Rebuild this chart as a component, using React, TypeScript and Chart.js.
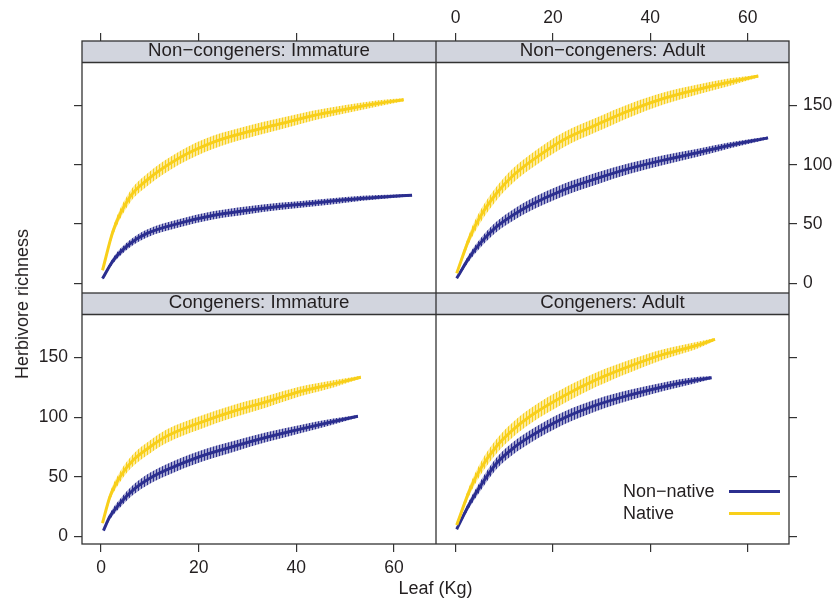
import React, { useEffect, useRef } from "react";
import { Chart, registerables } from "chart.js";

Chart.register(...registerables);

// ---------- data ----------
const X_TICKS = [0, 20, 40, 60];
const Y_TICKS = [0, 50, 100, 150];
const SERIES_NAMES = ["Non\u2212native", "Native"];
const PANEL_TITLES = [
  "Non\u2212congeners: Immature",
  "Non\u2212congeners: Adult",
  "Congeners: Immature",
  "Congeners: Adult",
];
const X_TITLE = "Leaf (Kg)";
const Y_TITLE = "Herbivore richness";

// Non-congeners: Immature
const nciNativeX = [0.3, 2.5, 5.9, 9.3, 16.1, 22.9, 29.7, 36.5, 43.3, 50.1, 56.9, 62.0];
const nciNativeY = [11, 44.6, 72.7, 86.8, 106, 119, 127.5, 134.5, 141.5, 147, 152, 155];
const nciNativeErr = [1.2, 3.6, 4.8, 5.3, 5.5, 5.5, 5.2, 4.8, 4.2, 3.5, 2.6, 1.2];
const nciNonNativeX = [0.3, 2.5, 5.9, 9.3, 16.1, 22.9, 29.7, 36.5, 43.3, 50.1, 56.9, 63.7];
const nciNonNativeY = [4, 19.4, 33.4, 41.9, 50.8, 57.3, 61.5, 64.9, 67.6, 70.5, 72.7, 74.4];
const nciNonNativeErr = [1, 2.5, 3.1, 3.4, 3.5, 3.5, 3.4, 3.1, 2.8, 2.4, 1.8, 1];

// Non-congeners: Adult
const ncaNativeX = [0.2, 2.9, 5, 8.4, 11.8, 15.3, 22.1, 29, 35.8, 42.7, 49.5, 56.4, 62.2];
const ncaNativeY = [8.4, 39, 56, 76, 91, 102.5, 121, 134, 146, 156, 163.5, 170, 175];
const ncaNativeErr = [1.2, 4, 5.2, 5.8, 6.2, 6.3, 6.3, 6.1, 5.7, 5.1, 4.2, 3.1, 1.2];
const ncaNonNativeX = [0.2, 2.9, 5, 8.4, 11.8, 15.3, 22.1, 29, 35.8, 42.7, 49.5, 56.4, 64.2];
const ncaNonNativeY = [4.2, 22.5, 33.7, 47.8, 57.6, 66, 78.7, 88.5, 97, 104, 110, 116.6, 122.8];
const ncaNonNativeErr = [1, 3, 3.8, 4.4, 4.8, 5, 5.1, 5, 4.6, 4.1, 3.4, 2.5, 1.1];

// Congeners: Immature
const ciNativeX = [0.3, 1.8, 3.9, 6.6, 10, 13.4, 20.3, 27.1, 33.9, 40.8, 47.6, 53.2];
const ciNativeY = [11, 33, 50, 64, 75, 84, 95.5, 105, 113, 121.6, 128, 133.6];
const ciNativeErr = [1.2, 3.3, 4.4, 5, 5.4, 5.6, 5.6, 5.3, 4.8, 4.1, 3, 1.2];
const ciNonNativeX = [0.5, 1.8, 3.9, 6.6, 10, 13.4, 20.3, 27.1, 33.9, 40.8, 47.6, 52.6];
const ciNonNativeY = [4.8, 16.5, 27.7, 39, 48.7, 55.7, 67, 75.4, 83.2, 90, 96.4, 100.8];
const ciNonNativeErr = [1, 2.6, 3.5, 4.2, 4.6, 4.8, 4.8, 4.6, 4.1, 3.4, 2.5, 1];

// Congeners: Adult
const caNativeX = [0.2, 2.9, 5, 8.4, 11.8, 15.3, 22.1, 29, 35.8, 42.7, 49.5, 53.3];
const caNativeY = [9.5, 39, 56, 75.6, 89.6, 100.8, 117.6, 131.7, 142.9, 152.7, 160.2, 165.3];
const caNativeErr = [1.2, 4, 5.2, 6, 6.3, 6.4, 6.4, 6, 5.3, 4.3, 3, 1.2];
const caNonNativeX = [0.2, 2.9, 5, 8.4, 11.8, 15.3, 22.1, 29, 35.8, 42.7, 49.5, 52.6];
const caNonNativeY = [5.9, 27.7, 41.7, 61.3, 73.9, 83.7, 99, 110.3, 118.6, 125.6, 131.2, 133.2];
const caNonNativeErr = [1, 3.2, 4.1, 4.8, 5.2, 5.3, 5.3, 5, 4.4, 3.6, 2.5, 1.1];

// ---------- style ----------
const FONT = '"Liberation Sans", Arial, Helvetica, sans-serif';
const INK = "#231f20";
const FRAME = "#333333";
const STRIP_BG = "#d2d5de";
const BLUE = "#2b2e8f";
const YELLOW = "#f8cf1a";
const STRIP_H = 21.5;

type Series = { x: number[]; y: number[]; err: number[] };
type PanelDef = {
  title: string;
  nonNative: Series;
  native: Series;
  box: { left: number; top: number; w: number; h: number };
  xPos: "top" | "bottom";
  xSize: number;
  xLabels: boolean;
  yPos: "left" | "right";
  ySize: number;
  yLabels: boolean;
  xRange: [number, number];
  yRange: [number, number];
};

const PANELS: PanelDef[] = [
  {
    title: PANEL_TITLES[0],
    nonNative: { x: nciNonNativeX, y: nciNonNativeY, err: nciNonNativeErr },
    native: { x: nciNativeX, y: nciNativeY, err: nciNativeErr },
    box: { left: 0, top: 0, w: 436, h: 293 },
    xPos: "top", xSize: 41, xLabels: false,
    yPos: "left", ySize: 82, yLabels: false,
    xRange: [-3.9, 68.6], yRange: [-8.2, 204.6],
  },
  {
    title: PANEL_TITLES[1],
    nonNative: { x: ncaNonNativeX, y: ncaNonNativeY, err: ncaNonNativeErr },
    native: { x: ncaNativeX, y: ncaNativeY, err: ncaNativeErr },
    box: { left: 436, top: 0, w: 399, h: 293 },
    xPos: "top", xSize: 41, xLabels: true,
    yPos: "right", ySize: 46, yLabels: true,
    xRange: [-4.05, 68.5], yRange: [-8.2, 204.6],
  },
  {
    title: PANEL_TITLES[2],
    nonNative: { x: ciNonNativeX, y: ciNonNativeY, err: ciNonNativeErr },
    native: { x: ciNativeX, y: ciNativeY, err: ciNativeErr },
    box: { left: 0, top: 293, w: 436, h: 306 },
    xPos: "bottom", xSize: 55, xLabels: true,
    yPos: "left", ySize: 82, yLabels: true,
    xRange: [-3.9, 68.6], yRange: [-6.5, 204.3],
  },
  {
    title: PANEL_TITLES[3],
    nonNative: { x: caNonNativeX, y: caNonNativeY, err: caNonNativeErr },
    native: { x: caNativeX, y: caNativeY, err: caNativeErr },
    box: { left: 436, top: 293, w: 399, h: 306 },
    xPos: "bottom", xSize: 55, xLabels: false,
    yPos: "right", ySize: 46, yLabels: false,
    xRange: [-4.05, 68.5], yRange: [-6.5, 204.3],
  },
];

function hexToRgba(hex: string, a: number) {
  const n = parseInt(hex.slice(1), 16);
  return `rgba(${(n >> 16) & 255},${(n >> 8) & 255},${n & 255},${a})`;
}

function makePattern(color: string): CanvasPattern | string {
  const c = document.createElement("canvas");
  c.width = 3;
  c.height = 2;
  const ctx = c.getContext("2d");
  if (!ctx) return hexToRgba(color, 0.5);
  ctx.fillStyle = hexToRgba(color, 0.42);
  ctx.fillRect(0, 0, 3, 2);
  ctx.fillStyle = hexToRgba(color, 1);
  ctx.fillRect(0, 0, 1, 2);
  return ctx.createPattern(c, "repeat") || hexToRgba(color, 0.5);
}

function panelPlugin(label: string) {
  return {
    id: "panelFrame",
    afterDraw(chart: any) {
      const { ctx, chartArea: a } = chart;
      ctx.save();
      ctx.fillStyle = STRIP_BG;
      ctx.fillRect(a.left, a.top, a.right - a.left, STRIP_H);
      ctx.strokeStyle = FRAME;
      ctx.lineWidth = 1.3;
      ctx.strokeRect(a.left, a.top, a.right - a.left, a.bottom - a.top);
      ctx.beginPath();
      ctx.moveTo(a.left, a.top + STRIP_H);
      ctx.lineTo(a.right, a.top + STRIP_H);
      ctx.stroke();
      ctx.fillStyle = INK;
      ctx.font = `18.7px ${FONT}`;
      ctx.textAlign = "center";
      ctx.textBaseline = "alphabetic";
      ctx.fillText(label, (a.left + a.right) / 2, a.top + 15);
      ctx.restore();
    },
  };
}

function axisOpts(
  kind: "x" | "y",
  pos: string,
  size: number,
  labels: boolean,
  range: [number, number]
) {
  const tickVals = kind === "x" ? X_TICKS : Y_TICKS;
  return {
    type: "linear",
    position: pos,
    min: range[0],
    max: range[1],
    afterBuildTicks: (s: any) => {
      s.ticks = tickVals.map((v) => ({ value: v }));
    },
    afterFit: (s: any) => {
      if (kind === "x") s.height = size;
      else s.width = size;
      s.paddingLeft = 0;
      s.paddingRight = 0;
      s.paddingTop = 0;
      s.paddingBottom = 0;
    },
    grid: {
      display: true,
      drawOnChartArea: false,
      drawTicks: true,
      tickLength: 8,
      color: FRAME,
      lineWidth: 1.2,
    },
    border: { display: false },
    ticks: {
      display: labels,
      autoSkip: false,
      maxRotation: 0,
      padding: pos === "top" ? 4 : 6,
      color: INK,
      font: { family: FONT, size: 17.5 },
    },
  };
}

function buildDatasets(p: PanelDef) {
  const band = (s: Series, color: string, order: number) => [
    {
      data: s.x.map((x, i) => ({ x, y: s.y[i] + s.err[i] })),
      borderWidth: 0,
      pointRadius: 0,
      fill: "+1",
      backgroundColor: makePattern(color),
      cubicInterpolationMode: "monotone",
      order,
    },
    {
      data: s.x.map((x, i) => ({ x, y: s.y[i] - s.err[i] })),
      borderWidth: 0,
      pointRadius: 0,
      fill: false,
      cubicInterpolationMode: "monotone",
      order,
    },
  ];
  const line = (s: Series, color: string, order: number) => ({
    data: s.x.map((x, i) => ({ x, y: s.y[i] })),
    borderColor: color,
    borderWidth: 3,
    pointRadius: 0,
    fill: false,
    cubicInterpolationMode: "monotone",
    order,
  });
  return [
    ...band(p.native, YELLOW, 3),
    ...band(p.nonNative, BLUE, 3),
    line(p.native, YELLOW, 1),
    line(p.nonNative, BLUE, 2),
  ];
}

function Panel({ def }: { def: PanelDef }) {
  const ref = useRef<HTMLCanvasElement | null>(null);
  useEffect(() => {
    if (!ref.current) return;
    const chart = new Chart(ref.current, {
      type: "line",
      data: { datasets: buildDatasets(def) as any },
      options: {
        animation: false,
        responsive: false,
        maintainAspectRatio: false,
        devicePixelRatio: 1,
        layout: { padding: 0 },
        plugins: { legend: { display: false }, tooltip: { enabled: false } },
        events: [],
        scales: {
          x: axisOpts("x", def.xPos, def.xSize, def.xLabels, def.xRange) as any,
          y: axisOpts("y", def.yPos, def.ySize, def.yLabels, def.yRange) as any,
        },
      },
      plugins: [panelPlugin(def.title)],
    });
    return () => chart.destroy();
  }, [def]);
  return (
    <canvas
      ref={ref}
      width={def.box.w}
      height={def.box.h}
      style={{
        position: "absolute",
        left: def.box.left,
        top: def.box.top,
        width: def.box.w,
        height: def.box.h,
      }}
    />
  );
}

export default function App() {
  const textStyle: React.CSSProperties = {
    position: "absolute",
    fontFamily: FONT,
    fontSize: 18,
    lineHeight: "18px",
    color: INK,
    whiteSpace: "nowrap",
  };
  return (
    <div
      style={{
        position: "absolute",
        left: 0,
        top: 0,
        width: 835,
        height: 599,
        background: "#ffffff",
        overflow: "hidden",
      }}
    >
      {PANELS.map((p) => (
        <Panel key={p.title} def={p} />
      ))}
      <div
        style={{
          ...textStyle,
          left: 21.5,
          top: 304,
          transform: "translate(-50%, -50%) rotate(-90deg)",
        }}
      >
        {Y_TITLE}
      </div>
      <div
        style={{ ...textStyle, left: 435.5, top: 579, transform: "translateX(-50%)" }}
      >
        {X_TITLE}
      </div>
      {/* legend */}
      <div style={{ ...textStyle, left: 623, top: 482 }}>{SERIES_NAMES[0]}</div>
      <div style={{ ...textStyle, left: 623, top: 504 }}>{SERIES_NAMES[1]}</div>
      <div
        style={{ position: "absolute", left: 729, top: 489.5, width: 51, height: 3, background: BLUE }}
      />
      <div
        style={{ position: "absolute", left: 729, top: 511.5, width: 51, height: 3, background: YELLOW }}
      />
    </div>
  );
}
